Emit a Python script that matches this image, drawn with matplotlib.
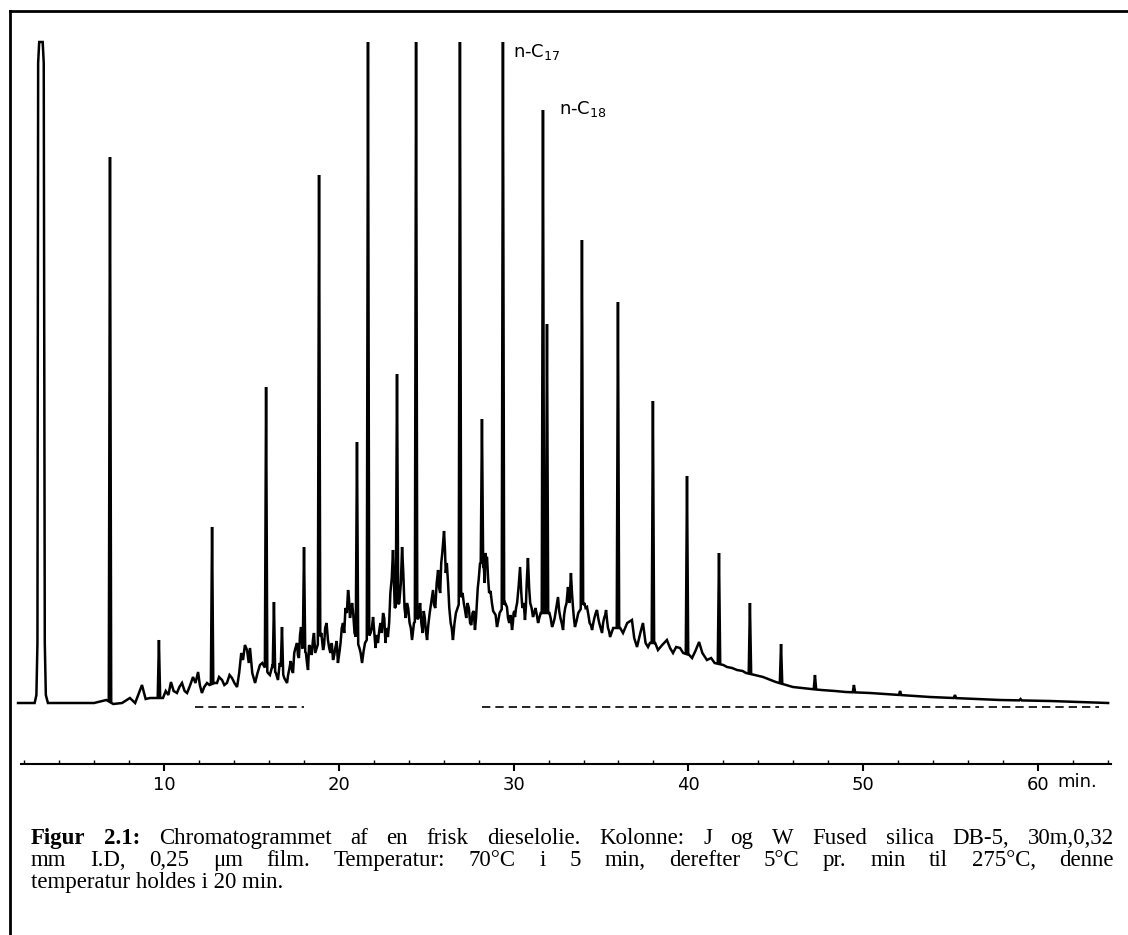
import numpy as np
import matplotlib
matplotlib.use("Agg")
import matplotlib.pyplot as plt
from matplotlib.lines import Line2D
from matplotlib.ticker import MultipleLocator, FixedLocator

# ---------------- data (retention time in min, detector response in arbitrary units) -------------
alkane_carbons = [9, 10, 11, 12, 13, 14, 15, 16, 17, 18, 19, 20, 21, 22, 23, 24, 25, 26, 27, 28, 29, 30]
alkane_times = [6.91, 9.71, 12.75, 15.84, 18.87, 21.67, 24.42, 26.93, 29.39, 31.68, 33.91, 35.97,
                37.97, 39.92, 41.75, 43.52, 45.30, 47.24, 49.47, 52.11, 55.25, 59.00]
alkane_tops = [546, 63, 176, 316, 528, 661, 661, 661, 661, 593, 463, 401,
               302, 227, 150, 100, 59, 28, 18, 12, 8, 4]

other_peak_times = [16.29, 16.75, 18.01, 21.04, 23.33, 28.19, 31.91]
other_peak_tops = [101, 76, 156, 261, 329, 284, 379]

solvent_times = [2.60, 2.70, 2.76, 2.80, 2.86, 3.06, 3.12, 3.18, 3.24, 3.36]
solvent_levels = [0, 8, 60, 640, 661, 661, 640, 60, 8, 0]

# unresolved complex mixture ("hump") with its grass of small peaks
hump_times = [1.65, 2.55, 3.45, 6.00, 6.45, 6.70, 7.10, 7.60, 8.05, 8.35, 8.74, 8.95, 9.20,
              9.94, 10.10, 10.25, 10.40, 10.55, 10.74, 10.88, 11.03, 11.18, 11.32, 11.50, 11.66,
              11.80, 11.95, 12.05, 12.17, 12.30, 12.46, 12.60, 12.90, 13.03, 13.15, 13.32, 13.45,
              13.60, 13.75, 13.89, 14.03, 14.18, 14.30, 14.42, 14.52, 14.63, 14.75, 14.85, 14.92,
              15.05, 15.21, 15.35, 15.49, 15.62, 15.95, 16.06, 16.18, 16.40, 16.52, 16.62, 16.88,
              17.04, 17.18, 17.32, 17.45, 17.61, 17.72, 17.84, 17.92, 18.12, 18.24, 18.38, 18.52,
              18.65, 19.00, 19.10, 19.22, 19.38, 19.52, 19.67, 19.80, 19.95, 20.10, 20.24, 20.38,
              20.53, 20.64, 20.76, 20.90, 21.18, 21.33, 21.50, 21.82, 21.96, 22.10, 22.24, 22.38,
              22.53, 22.67, 22.81, 22.95, 23.10, 23.20, 23.46, 23.62, 23.76, 23.90, 24.05, 24.19,
              24.30, 24.55, 24.65, 24.80, 24.92, 25.05, 25.20, 25.39, 25.52, 25.68, 25.80, 25.92,
              26.02, 26.12, 26.25, 26.40, 26.53, 26.70, 27.08, 27.22, 27.36, 27.51, 27.65, 27.79,
              27.90, 28.00, 28.08, 28.30, 28.38, 28.48, 28.60, 28.76, 28.90, 29.05, 29.20, 29.52,
              29.62, 29.75, 29.91, 30.00, 30.08, 30.20, 30.37, 30.50, 30.65, 30.75, 30.82, 30.95,
              31.11, 31.25, 31.40, 31.55, 32.05, 32.20, 32.35, 32.54, 32.68, 32.83, 32.95, 33.11,
              33.20, 33.28, 33.40, 33.51, 33.70, 34.05, 34.20, 34.35, 34.49, 34.62, 34.77, 34.90,
              35.06, 35.18, 35.29, 35.40, 35.52, 35.70, 36.10, 36.26, 36.50, 36.77, 36.90, 37.06,
              37.25, 37.40, 37.55, 37.69, 37.80, 38.10, 38.26, 38.50, 38.77, 38.95, 39.12, 39.30,
              39.52, 39.70, 40.05, 40.21, 40.40, 40.61, 40.80, 41.06, 41.30, 41.50, 42.00, 42.21,
              42.50, 42.78, 43.10, 43.30, 43.80, 44.27, 44.70, 45.00, 45.98, 46.50, 47.00, 47.60,
              48.39, 49.00, 50.39, 51.20, 53.00, 53.82, 57.83, 60.69, 64.01]
hump_levels = [0, 0, 0, 0, 2, 3, -1, 0, 5, 0, 18, 4, 5,
               5, 12, 8, 21, 12, 10, 16, 20, 12, 10, 18, 26,
               20, 31, 18, 10, 16, 20, 18, 20, 20, 26, 23, 18,
               20, 28, 25, 20, 16, 30, 50, 43, 58, 53, 40, 55,
               30, 20, 30, 38, 40, 30, 28, 36, 30, 23, 40, 25,
               20, 35, 33, 50, 60, 45, 76, 55, 50, 33, 55, 63,
               50, 70, 53, 75, 63, 50, 43, 55, 40, 60, 80, 95,
               113, 85, 100, 70, 55, 40, 60, 70, 86, 55, 60, 80,
               90, 60, 66, 110, 153, 95, 100, 156, 95, 100, 80, 63,
               80, 85, 100, 70, 85, 63, 90, 113, 95, 133, 110, 150,
               172, 130, 120, 80, 63, 90, 110, 93, 100, 80, 90, 73,
               100, 123, 140, 135, 150, 146, 110, 100, 90, 76, 90, 100,
               96, 80, 73, 90, 86, 100, 136, 95, 83, 120, 145, 100,
               86, 95, 80, 90, 90, 76, 85, 106, 85, 73, 95, 116,
               100, 130, 95, 76, 90, 100, 96, 80, 73, 85, 93, 80,
               70, 85, 93, 75, 66, 75, 75, 70, 80, 83, 65, 56,
               70, 80, 60, 56, 60, 60, 53, 58, 63, 55, 50, 56,
               55, 50, 48, 45, 52, 61, 50, 43, 45, 40, 38, 36,
               35, 33, 32, 30, 28, 26, 23, 21, 16, 15, 14, 13,
               12, 11, 10, 9, 7, 6, 3, 2, 0]

# finer zig-zag of the grass in the densest part of the hump
detail_times = [17.10, 17.25, 17.38, 17.52, 17.66, 17.78, 18.18, 18.30, 18.45, 18.58, 19.05, 19.16,
                19.30, 19.45, 19.60, 19.74, 19.88, 20.03, 20.17, 20.31, 20.46, 20.58, 20.70, 20.83,
                21.25, 21.42, 21.89, 22.03, 22.17, 22.31, 22.46, 22.60, 22.74, 22.88, 23.03, 23.55,
                23.69, 23.83, 23.97, 24.12, 24.60, 24.72, 24.86, 24.98, 25.12, 25.28, 25.45, 25.60,
                25.74, 25.86, 26.07, 26.18, 26.32, 26.46, 26.62, 27.15, 27.29, 27.44, 27.58, 27.72,
                27.85, 27.95, 28.35, 28.43, 28.54, 28.68, 28.83, 28.97, 29.12, 29.68, 29.83, 29.96,
                30.04, 30.14, 30.28, 30.44, 30.58, 30.70, 30.78, 30.89, 31.03, 31.18, 31.33, 31.47,
                32.12, 32.28, 32.44, 32.61, 32.75, 32.89, 33.03, 33.16, 33.34, 33.45, 33.60, 34.12,
                34.28, 34.42, 34.56, 34.70, 34.84, 34.98, 35.12, 35.24, 35.35, 35.46, 35.60]
detail_levels = [28, 42, 30, 55, 48, 68, 40, 58, 48, 70, 62, 58,
                 80, 55, 60, 48, 62, 50, 75, 70, 90, 105, 92, 88,
                 50, 52, 75, 70, 68, 72, 70, 85, 75, 80, 125, 120,
                 130, 85, 95, 75, 90, 80, 92, 72, 78, 100, 98, 120,
                 115, 140, 155, 140, 95, 75, 80, 100, 85, 95, 78, 92,
                 85, 115, 120, 145, 125, 112, 92, 88, 82, 85, 88, 80,
                 92, 95, 115, 110, 100, 95, 130, 115, 95, 90, 88, 85,
                 85, 80, 95, 92, 80, 88, 100, 108, 110, 85, 82, 95,
                 88, 78, 80, 90, 85, 75, 80, 88, 82, 72, 70]

baseline_marks = [(11.8, 18.0), (28.2, 63.5)]

x_ticks = [10, 20, 30, 40, 50, 60]
label_c17 = r"n-C$_{17}$"
label_c18 = r"n-C$_{18}$"

caption_line1 = [("Figur", "bold"), ("2.1:", "bold"), ("Chromatogrammet", "normal"), ("af", "normal"),
                 ("en", "normal"), ("frisk", "normal"), ("dieselolie.", "normal"), ("Kolonne:", "normal"),
                 ("J", "normal"), ("og", "normal"), ("W", "normal"), ("Fused", "normal"),
                 ("silica", "normal"), ("DB-5,", "normal"), ("30m,0,32", "normal")]
caption_line2 = ["mm", "I.D,", "0,25", "μm", "film.", "Temperatur:", "70°C", "i", "5", "min,",
                 "derefter", "5°C", "pr.", "min", "til", "275°C,", "denne"]
caption_line3 = "temperatur holdes i 20 min."

# ---------------- figure ----------------
W, H = 1128, 935
fig = plt.figure(figsize=(W / 100, H / 100), dpi=100)
fig.patch.set_facecolor("white")


def xpx(t):
    return 164 + (t - 10) * 17.48


t_lo, t_hi = 1.8, 64.2
ax_l, ax_r = xpx(t_lo), xpx(t_hi)
ax_b, ax_t = 764, 40
ax = fig.add_axes([ax_l / W, 1 - ax_b / H, (ax_r - ax_l) / W, (ax_b - ax_t) / H])
ax.set_xlim(t_lo, t_hi)
ax.set_ylim(-(ax_b - 703), 703 - ax_t)
ax.set_facecolor("none")

# ---- assemble the trace ----
ht = np.array(hump_times + detail_times, float)
hl = np.array(hump_levels + detail_levels, float)
srt = np.argsort(ht, kind="stable")
ht, hl = ht[srt], hl[srt]
pk_t = np.array(alkane_times + other_peak_times, float)
pk_s = np.array(alkane_tops + other_peak_tops, float)
w = 0.07
keep = np.ones(len(ht), bool)
for tp in pk_t:
    keep &= np.abs(ht - tp) > w
pts_t = list(ht[keep]) + solvent_times
pts_s = list(hl[keep]) + solvent_levels
for tp, sp in zip(pk_t, pk_s):
    pts_t += [tp - w, tp, tp + w]
    pts_s += [np.interp(tp - w, ht, hl), sp, np.interp(tp + w, ht, hl)]
order = np.argsort(pts_t, kind="stable")
tr_t = np.array(pts_t)[order]
tr_s = np.array(pts_s)[order]
ax.plot(tr_t, tr_s, color="black", lw=1.8, solid_joinstyle="miter", clip_on=False)

for a, b in baseline_marks:
    ax.plot([a, b], [-4, -4], color="black", lw=1.2, dashes=(5, 3))

ax.text(29.97, 651, label_c17, fontsize=13, va="center", ha="left")
ax.text(32.6, 594, label_c18, fontsize=13, va="center", ha="left")

# ---- axis ----
for sp in ["top", "left", "right"]:
    ax.spines[sp].set_visible(False)
ax.spines["bottom"].set_linewidth(1.5)
ax.yaxis.set_visible(False)
ax.xaxis.set_major_locator(FixedLocator(x_ticks))
ax.xaxis.set_minor_locator(MultipleLocator(2))
ax.tick_params(axis="x", which="major", direction="out", length=5, width=1.5, labelsize=13, pad=4)
ax.tick_params(axis="x", which="minor", direction="in", length=3, width=1)
fig.text(1057 / W, 1 - 782 / H, "min.", fontsize=13, va="center", ha="left")

# ---- frame ----
fig.add_artist(Line2D([10 / W, 10 / W], [1 - 11 / H, 0], color="black", lw=2))
fig.add_artist(Line2D([10 / W, 1], [1 - 11 / H, 1 - 11 / H], color="black", lw=2))

# ---- caption (justified lines) ----
serif = "Liberation Serif"
cap_size = 16.5
x0_cap, x1_cap = 31, 1114
renderer = fig.canvas.get_renderer()


def justify(words, y_px):
    texts = []
    for word, weight in words:
        texts.append(fig.text(0, 1 - y_px / H, word, fontsize=cap_size, family=serif,
                              weight=weight, va="baseline", ha="left"))
    widths = [t.get_window_extent(renderer).width for t in texts]
    gap = (x1_cap - x0_cap - sum(widths)) / (len(texts) - 1)
    x = x0_cap
    for t, wd in zip(texts, widths):
        t.set_x(x / W)
        x += wd + gap


justify(caption_line1, 844)
justify([(wd, "normal") for wd in caption_line2], 866)
fig.text(x0_cap / W, 1 - 888 / H, caption_line3, fontsize=cap_size, family=serif,
         va="baseline", ha="left")

fig.savefig("out.png", dpi=100, facecolor="white")
